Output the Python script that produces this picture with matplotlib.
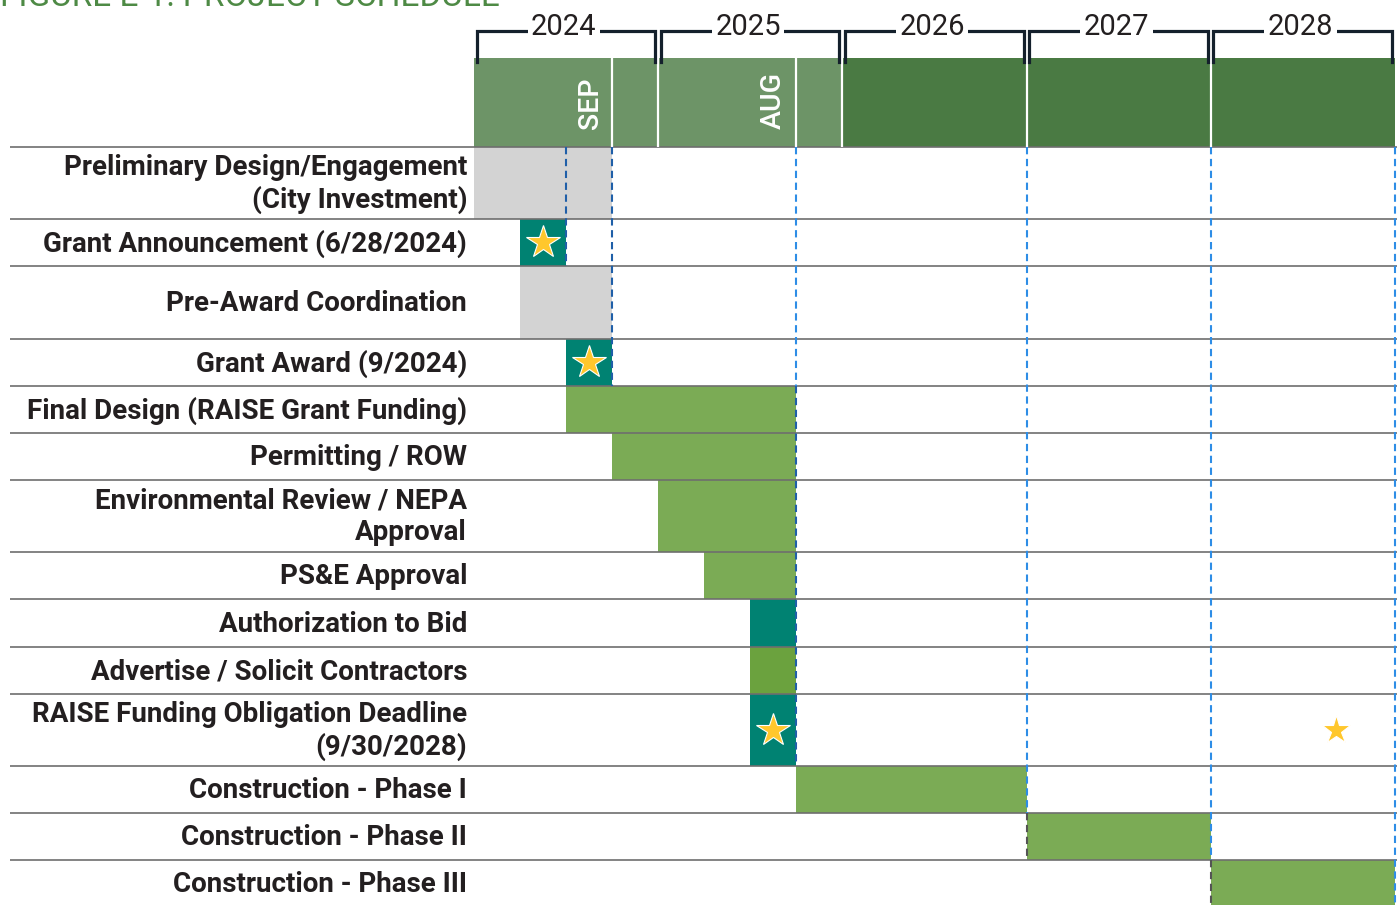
import matplotlib
matplotlib.use("Agg")
import matplotlib.pyplot as plt
from matplotlib.patches import Rectangle

plt.rcParams['font.family'] = ['Roboto', 'DejaVu Sans']

# ---------------- data ----------------
title = "FIGURE E-1: PROJECT SCHEDULE"
years = ["2024", "2025", "2026", "2027", "2028"]
year_start = [0, 4, 8, 12, 16]      # in quarters from Jan 2024
year_end = [4, 8, 12, 16, 20]
month_labels = ["SEP", "AUG"]
month_pos = [2.52, 6.49]

tasks = [
    "Preliminary Design/Engagement\n(City Investment)",
    "Grant Announcement (6/28/2024)",
    "Pre-Award Coordination",
    "Grant Award (9/2024)",
    "Final Design (RAISE Grant Funding)",
    "Permitting / ROW",
    "Environmental Review / NEPA\nApproval",
    "PS&E Approval",
    "Authorization to Bid",
    "Advertise / Solicit Contractors",
    "RAISE Funding Obligation Deadline\n(9/30/2028)",
    "Construction - Phase I",
    "Construction - Phase II",
    "Construction - Phase III",
]
task_start = [0, 1, 1, 2, 2, 3, 4, 5, 6, 6, 6, 7, 12, 16]
task_end = [3, 2, 3, 3, 7, 7, 7, 7, 7, 7, 7, 12, 16, 20]
task_kind = ["gray", "teal", "gray", "teal", "green", "green", "green",
             "green", "teal", "green2", "teal", "green", "green", "green"]
star_rows = [1, 3, 10, 10]
star_pos = [1.5, 2.5, 6.5, 18.72]
star_size = [25, 25, 25, 21]

# ---------------- layout / style ----------------
row_heights = [72, 47, 73, 47, 47, 47, 72, 47, 48, 47, 72, 47, 47, 47]
table_top = 147
header_top = 58
px0 = 474.0
ppq = 46.05  # pixels per quarter
colors = {"gray": "#D3D3D3", "teal": "#008272", "green": "#7BAB55",
          "green2": "#6BA23E"}
light_hdr = "#6D9467"
dark_hdr = "#4A7A43"
text_col = "#231F20"
light_blue = "#2E8DE6"
dark_blue = "#1F5FA8"

fig = plt.figure(figsize=(13.97, 9.05), dpi=100)
ax = fig.add_axes([0, 0, 1, 1])
ax.set_xlim(-px0 / ppq, (1397 - px0) / ppq)
ax.set_ylim(905, 0)
ax.axis("off")

def q(px):
    return (px - px0) / ppq

# row geometry
bounds = [table_top]
for h in row_heights:
    bounds.append(bounds[-1] + h)
centers = [(bounds[i] + bounds[i + 1]) / 2 for i in range(len(row_heights))]

# bars
for i, (s, e, k) in enumerate(zip(task_start, task_end, task_kind)):
    ax.barh(centers[i], e - s, left=s, height=row_heights[i],
            color=colors[k], edgecolor="none", zorder=2)

# labels
for i, t in enumerate(tasks):
    ax.text(q(467), centers[i] + 1, t, ha="right", va="center",
            fontsize=20, fontweight="bold", color=text_col,
            linespacing=1.22, zorder=5)

# row separator lines
ax.hlines(bounds, q(10), q(1397), color="#6E6E6E", lw=1.2, zorder=3)

# header blocks
hdr_segments = [(0, 3, light_hdr), (3, 4, light_hdr), (4, 7, light_hdr),
                (7, 8, light_hdr), (8, 12, dark_hdr), (12, 16, dark_hdr),
                (16, 20, dark_hdr)]
for s, e, c in hdr_segments:
    ax.add_patch(Rectangle((s, header_top), e - s, table_top - header_top,
                           facecolor=c, edgecolor="none", zorder=2))
ax.vlines([3, 4, 7, 8, 12, 16], header_top, table_top, color="white",
          lw=1.6, zorder=3)
for lab, p in zip(month_labels, month_pos):
    ax.text(p, 129, lab, rotation=90, ha="center", va="bottom",
            color="white", fontsize=20.5, fontweight="medium", zorder=4)

# year brackets
for y, s, e in zip(years, year_start, year_end):
    xs, xe = s + 2.5 / ppq, e - 3.0 / ppq
    ax.plot([xs, xs, xe, xe], [62, 31, 31, 62], color="#14202C", lw=2.3,
            solid_joinstyle="miter", zorder=4, clip_on=False)
    ax.text((s + e) / 2 - 0.05, 35, y, ha="center", va="baseline",
            fontsize=21, color=text_col, zorder=5,
            bbox=dict(facecolor="white", edgecolor="none", pad=2.5))

# dashed vertical lines
dash_specs = [
    (2, bounds[0], bounds[2], dark_blue),
    (3, bounds[0], bounds[4], dark_blue),
    (7, bounds[0], bounds[4], light_blue),
    (7, bounds[4], bounds[11], dark_blue),
    (12, bounds[0], bounds[12], light_blue),
    (12, bounds[12], bounds[13], "#555555"),
    (16, bounds[0], bounds[13], light_blue),
    (16, bounds[13], 905, "#555555"),
    (20, bounds[0], 905, light_blue),
]
for x, y0, y1, c in dash_specs:
    ax.plot([x, x], [y0, y1], color=c, lw=1.5, ls=(0, (3.5, 2.2)),
            zorder=4)

# stars
for r, p, sz in zip(star_rows, star_pos, star_size):
    ax.plot(p, centers[r], marker="*", markersize=sz, color="#FFC72C",
            markeredgecolor="white", markeredgewidth=0.8, zorder=6)

# title (partly cut off at top, as in the source figure)
ax.text(q(0), 6, title, ha="left", va="baseline", fontsize=24,
        fontweight="normal", color="#4E8A45", zorder=5)

fig.savefig("out.png", dpi=100)
